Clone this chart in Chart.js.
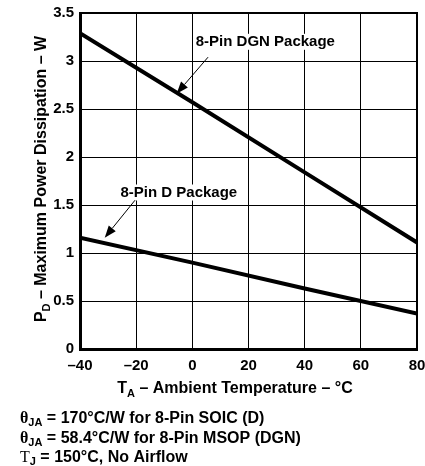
<!DOCTYPE html>
<html>
<head>
<meta charset="utf-8">
<script src="https://cdn.jsdelivr.net/npm/chart.js@4"></script>
<style>
  html, body { margin: 0; padding: 0; background: #fff; }
  #wrap { width: 425px; height: 466px; }
</style>
</head>
<body>
<div id="wrap"><canvas id="chart"></canvas></div>
<script>
// temperatures (x) and power dissipation (y)
const temps = [-40, 0, 40, 80];
const dgnPower = [3.29, 2.57, 1.84, 1.11];
const dPower = [1.16, 0.90, 0.63, 0.37];
const xTicks = [-40, -20, 0, 20, 40, 60, 80];

// annotation anchors in data units
const labels = [
  { text: '8-Pin DGN Package', x: 26, y: 3.2, tail: [5.6, 3.04], tip: [-5.6, 2.66] },
  { text: '8-Pin D Package', x: -4.8, y: 1.63, tail: [-20.4, 1.55], tip: [-31.2, 1.16] }
];

const footnotes = [
  [{ t: 'θ', f: 'bold 16px "Liberation Serif"' }, { t: 'JA', f: 'bold 11px "Liberation Sans"', dy: 3 }, { t: ' = 170°C/W for 8-Pin SOIC (D)', f: 'bold 16px "Liberation Sans"' }],
  [{ t: 'θ', f: 'bold 16px "Liberation Serif"' }, { t: 'JA', f: 'bold 11px "Liberation Sans"', dy: 3 }, { t: ' = 58.4°C/W for 8-Pin MSOP (DGN)', f: 'bold 16px "Liberation Sans"' }],
  [{ t: 'T', f: '16px "Liberation Serif"' }, { t: 'J', f: 'bold 11px "Liberation Sans"', dy: 3 }, { t: ' = 150°C, No Airflow', f: 'bold 16px "Liberation Sans"' }]
];

function drawRuns(ctx, runs, x, y, align) {
  let w = 0;
  runs.forEach(r => { ctx.font = r.f; w += ctx.measureText(r.t).width; });
  let cx = align === 'center' ? x - w / 2 : x;
  ctx.textAlign = 'left';
  ctx.textBaseline = 'alphabetic';
  runs.forEach(r => {
    ctx.font = r.f;
    ctx.fillText(r.t, cx, y + (r.dy || 0));
    cx += ctx.measureText(r.t).width;
  });
}

function arrow(ctx, x0, y0, x1, y1) {
  const a = Math.atan2(y1 - y0, x1 - x0);
  const len = 12, half = 4.5;
  ctx.lineWidth = 1;
  ctx.beginPath();
  ctx.moveTo(x0, y0);
  ctx.lineTo(x1 - Math.cos(a) * len, y1 - Math.sin(a) * len);
  ctx.stroke();
  ctx.beginPath();
  ctx.moveTo(x1, y1);
  ctx.lineTo(x1 - Math.cos(a) * len - Math.sin(a) * half, y1 - Math.sin(a) * len + Math.cos(a) * half);
  ctx.lineTo(x1 - Math.cos(a) * len + Math.sin(a) * half, y1 - Math.sin(a) * len - Math.cos(a) * half);
  ctx.closePath();
  ctx.fill();
}

const extras = {
  id: 'extras',
  afterDraw(chart) {
    const ctx = chart.ctx;
    const xs = chart.scales.x, ys = chart.scales.y;
    const a = chart.chartArea;
    ctx.save();
    ctx.fillStyle = '#000';
    ctx.strokeStyle = '#000';

    // frame top and right
    ctx.lineWidth = 2;
    ctx.beginPath();
    ctx.moveTo(a.left, a.top);
    ctx.lineTo(a.right, a.top);
    ctx.lineTo(a.right, a.bottom);
    ctx.stroke();

    // annotations
    labels.forEach(l => {
      ctx.font = 'bold 15px "Liberation Sans"';
      ctx.textAlign = 'center';
      ctx.textBaseline = 'middle';
      const tx = xs.getPixelForValue(l.x), ty = ys.getPixelForValue(l.y);
      const tw = ctx.measureText(l.text).width;
      ctx.fillStyle = '#fff';
      ctx.fillRect(tx - tw / 2 - 2, ty - 8, tw + 4, 16);
      ctx.fillStyle = '#000';
      ctx.fillText(l.text, tx, ty);
      arrow(ctx, xs.getPixelForValue(l.tail[0]), ys.getPixelForValue(l.tail[1]),
        xs.getPixelForValue(l.tip[0]), ys.getPixelForValue(l.tip[1]));
    });

    // x title
    drawRuns(ctx, [
      { t: 'T', f: 'bold 16px "Liberation Sans"' },
      { t: 'A', f: 'bold 11px "Liberation Sans"', dy: 4 },
      { t: ' – Ambient Temperature – °C', f: 'bold 16px "Liberation Sans"' }
    ], 235, 393, 'center');

    // y title
    ctx.save();
    ctx.translate(46, 179);
    ctx.rotate(-Math.PI / 2);
    drawRuns(ctx, [
      { t: 'P', f: 'bold 16px "Liberation Sans"' },
      { t: 'D', f: 'bold 11px "Liberation Sans"', dy: 4 },
      { t: ' – Maximum Power Dissipation – W', f: 'bold 16px "Liberation Sans"' }
    ], 0, 0, 'center');
    ctx.restore();

    // footnotes
    footnotes.forEach((runs, i) => drawRuns(ctx, runs, 20, 423 + i * 19.7, 'left'));
    ctx.restore();
  }
};

new Chart(document.getElementById('chart').getContext('2d'), {
  type: 'line',
  data: {
    labels: temps,
    datasets: [
      { label: '8-Pin DGN Package', data: temps.map((t, i) => ({ x: t, y: dgnPower[i] })) },
      { label: '8-Pin D Package', data: temps.map((t, i) => ({ x: t, y: dPower[i] })) }
    ]
  },
  options: {
    responsive: true,
    maintainAspectRatio: false,
    animation: false,
    elements: {
      line: { borderColor: '#000', borderWidth: 4, tension: 0, borderCapStyle: 'butt' },
      point: { radius: 0 }
    },
    layout: { padding: { top: 13, right: 8, left: 0, bottom: 0 } },
    plugins: { legend: { display: false }, tooltip: { enabled: false } },
    scales: {
      x: {
        type: 'linear',
        min: -40, max: 80,
        afterBuildTicks: s => { s.ticks = xTicks.map(v => ({ value: v })); },
        afterFit: s => { s.height = 117; s.paddingRight = 0; s.paddingLeft = 0; },
        grid: { color: '#000', lineWidth: 1, drawTicks: false },
        border: { color: '#000', width: 3 },
        ticks: {
          color: '#000',
          font: { family: 'Liberation Sans', size: 15, weight: 'bold' },
          padding: 8,
          callback: v => String(v).replace('-', '–')
        }
      },
      y: {
        min: 0, max: 3.5,
        afterFit: s => { s.width = 80; s.paddingTop = 0; s.paddingBottom = 0; },
        grid: { color: '#000', lineWidth: 1, drawTicks: false },
        border: { color: '#000', width: 3 },
        ticks: {
          stepSize: 0.5,
          color: '#000',
          font: { family: 'Liberation Sans', size: 15, weight: 'bold' },
          padding: 6,
          callback: v => String(v)
        }
      }
    }
  },
  plugins: [extras]
});
</script>
</body>
</html>
